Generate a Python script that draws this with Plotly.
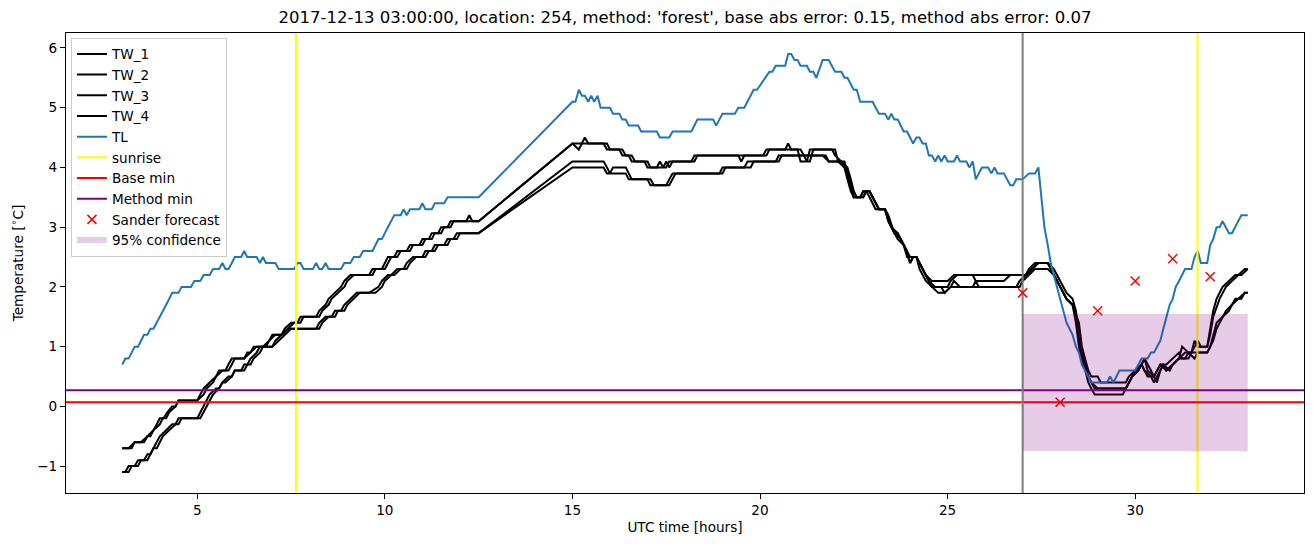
import plotly.graph_objects as go

# ---------------- data ----------------
tl_t = [3.0, 3.08, 3.17, 3.25, 3.33, 3.42, 3.5, 3.58, 3.67, 3.75, 3.83, 3.92, 4.0, 4.08, 4.17, 4.25, 4.33, 4.5, 4.58, 4.83,
        4.92, 5.08, 5.17, 5.33, 5.42, 5.58, 5.67, 5.75, 5.83, 5.92, 6.0, 6.17, 6.25, 6.33, 6.58, 6.67, 6.75, 6.83, 7.08, 7.17,
        7.58, 7.67, 7.75, 7.83, 8.08, 8.17, 8.25, 8.33, 8.42, 8.5, 8.83, 8.92, 9.08, 9.17, 9.33, 9.42, 9.67, 9.83, 9.92, 10.08,
        10.17, 10.25, 10.42, 10.5, 10.58, 10.67, 10.92, 11.0, 11.08, 11.25, 11.33, 11.58, 11.67, 12.5,
        15.0, 15.08, 15.17, 15.25, 15.33, 15.42, 15.5, 15.58, 15.67, 15.75, 16.0, 16.08, 16.25, 16.33, 16.42, 16.5, 16.75, 16.83,
        17.25, 17.33, 17.58, 17.67, 18.17, 18.25, 18.33, 18.75, 18.83, 19.0, 19.33, 19.42, 19.58, 19.83, 19.92, 20.25, 20.33,
        20.42, 20.67, 20.75, 20.83, 20.92, 21.0, 21.08, 21.25, 21.33, 21.42, 21.5, 21.67, 21.83, 22.0, 22.17, 22.25, 22.33,
        22.5, 22.58, 22.67, 23.0, 23.17, 23.33, 23.42, 23.5, 23.58, 23.67, 23.83, 23.92, 24.08, 24.17, 24.25, 24.33, 24.42,
        24.5, 24.58, 24.67, 24.75, 24.83, 24.92, 25.0, 25.17, 25.25, 25.33, 25.5, 25.58, 25.67, 25.75, 25.83, 25.92, 26.08,
        26.17, 26.25, 26.33, 26.5, 26.67, 26.75, 26.83, 27.0, 27.17, 27.33, 27.42, 27.5, 27.58, 27.67, 27.75, 27.83, 27.92,
        28.0, 28.08, 28.17, 28.25, 28.33, 28.42, 28.5, 28.58, 28.67, 28.75, 28.83, 29.25, 29.33, 29.42, 29.5, 29.58, 30.0,
        30.08, 30.17, 30.33, 30.42, 30.5, 30.58, 30.67, 30.75, 30.83, 30.92, 31.0, 31.08, 31.17, 31.25, 31.33, 31.5, 31.58,
        31.67, 31.75, 31.83, 31.92, 32.0, 32.08, 32.17, 32.25, 32.33, 32.42, 32.5, 32.58, 32.67, 32.75, 32.83, 33.0]
tl_v = [0.7, 0.8, 0.8, 0.9, 1.0, 1.0, 1.1, 1.2, 1.2, 1.3, 1.3, 1.4, 1.5, 1.6, 1.7, 1.8, 1.9, 1.9, 2.0, 2.0,
        2.1, 2.1, 2.2, 2.2, 2.3, 2.3, 2.4, 2.3, 2.3, 2.4, 2.5, 2.5, 2.6, 2.5, 2.5, 2.4, 2.5, 2.4, 2.4, 2.3,
        2.3, 2.4, 2.4, 2.3, 2.3, 2.4, 2.3, 2.3, 2.4, 2.3, 2.3, 2.4, 2.4, 2.5, 2.5, 2.6, 2.6, 2.8, 2.8, 3.0,
        3.1, 3.2, 3.2, 3.3, 3.2, 3.3, 3.3, 3.4, 3.3, 3.3, 3.4, 3.4, 3.5, 3.5,
        5.1, 5.1, 5.3, 5.2, 5.2, 5.1, 5.2, 5.1, 5.2, 5.0, 5.0, 4.9, 4.9, 4.8, 4.8, 4.7, 4.7, 4.6,
        4.6, 4.5, 4.5, 4.6, 4.6, 4.7, 4.8, 4.8, 4.7, 4.9, 4.9, 5.0, 5.0, 5.3, 5.3, 5.6, 5.6,
        5.7, 5.7, 5.9, 5.9, 5.8, 5.8, 5.7, 5.7, 5.6, 5.6, 5.5, 5.8, 5.8, 5.6, 5.6, 5.5, 5.5,
        5.3, 5.3, 5.1, 5.1, 4.9, 4.9, 4.8, 4.9, 4.8, 4.8, 4.6, 4.6, 4.4, 4.5, 4.5, 4.4, 4.4,
        4.2, 4.2, 4.1, 4.2, 4.1, 4.2, 4.1, 4.1, 4.2, 4.1, 4.1, 4.0, 4.1, 3.8, 3.9, 4.0, 4.0,
        3.9, 4.0, 3.9, 3.9, 3.7, 3.7, 3.8, 3.8, 3.9, 3.9, 4.0, 3.5, 3.0, 2.7, 2.4, 2.2, 2.0,
        1.8, 1.6, 1.4, 1.3, 1.2, 1.0, 0.9, 0.7, 0.6, 0.5, 0.4, 0.4, 0.5, 0.4, 0.5, 0.6, 0.6,
        0.7, 0.8, 0.8, 0.9, 0.9, 1.0, 1.1, 1.3, 1.5, 1.7, 1.8, 2.0, 2.1, 2.2, 2.3, 2.3, 2.5,
        2.6, 2.4, 2.4, 2.4, 2.7, 2.8, 3.0, 3.0, 3.1, 3.0, 2.9, 2.9, 3.0, 3.1, 3.2, 3.2]

tw1_t = [3.0, 3.17, 3.33, 3.5, 3.67, 3.83, 3.92, 4.0, 4.1, 4.2, 4.33, 4.42, 4.5, 5.0, 5.08, 5.17, 5.33, 5.5, 5.58, 5.75,
         5.83, 5.92, 6.25, 6.33, 6.42, 6.5, 6.83, 6.92, 7.0, 7.25, 7.33, 7.5, 7.75, 7.83, 8.17, 8.25, 8.42, 8.5, 8.67, 8.83,
         8.92, 9.08, 9.58, 9.67, 9.92, 10.0, 10.08, 10.25, 10.33, 10.58, 10.67, 10.92, 11.0, 11.17, 11.25, 11.42, 11.5,
         11.67, 11.75, 12.17, 12.25, 12.33, 12.5,
         15.0, 15.17, 15.25, 15.83, 15.92, 16.25, 16.33, 16.5, 16.58, 16.92, 17.0, 17.25, 17.33, 17.42, 17.5, 17.58, 17.67,
         18.17, 18.25, 19.42, 19.5, 19.58, 20.08, 20.17, 20.67, 20.75, 20.83, 21.08, 21.17, 21.25, 21.33, 21.92, 22.0,
         22.17, 22.33, 22.42, 22.5, 22.58, 22.75, 22.83, 22.92, 23.0, 23.17, 23.33, 23.42, 23.58, 23.67, 23.83, 23.92, 24.0,
         24.17, 24.33, 24.42, 24.58, 25.0, 25.17, 27.08, 27.25, 27.42, 27.67, 27.83, 28.0, 28.17, 28.33, 28.5, 28.58, 28.67,
         28.75, 28.83, 29.0, 29.08, 29.75, 29.83, 30.0, 30.17, 30.25, 30.33, 30.5, 30.67, 30.83, 31.0, 31.17, 31.25, 31.42,
         31.5, 31.58, 31.67, 31.92, 32.0, 32.08, 32.17, 32.33, 32.5, 32.67, 32.83, 33.0]
tw1_v = [-0.7, -0.7, -0.6, -0.6, -0.5, -0.4, -0.3, -0.2, -0.2, -0.1, 0.0, 0.0, 0.1, 0.1, 0.2, 0.3, 0.4, 0.5, 0.6, 0.6,
         0.7, 0.8, 0.8, 0.9, 0.9, 1.0, 1.0, 1.1, 1.2, 1.2, 1.3, 1.4, 1.4, 1.5, 1.5, 1.6, 1.7, 1.8, 1.9, 2.0,
         2.1, 2.2, 2.2, 2.3, 2.3, 2.4, 2.5, 2.5, 2.6, 2.6, 2.7, 2.7, 2.8, 2.8, 2.9, 2.9, 3.0,
         3.0, 3.1, 3.1, 3.2, 3.1, 3.1,
         4.4, 4.3, 4.4, 4.4, 4.3, 4.3, 4.2, 4.2, 4.1, 4.1, 4.0, 4.0, 4.1, 4.0, 4.1, 4.0, 4.1,
         4.1, 4.2, 4.2, 4.1, 4.2, 4.2, 4.3, 4.3, 4.4, 4.3, 4.3, 4.2, 4.1, 4.3, 4.3, 4.2,
         4.1, 4.0, 3.8, 3.6, 3.5, 3.5, 3.6, 3.6, 3.5, 3.3, 3.3, 3.1, 2.9, 2.9, 2.7, 2.6, 2.5,
         2.5, 2.3, 2.2, 2.1, 2.1, 2.2, 2.2, 2.3, 2.4, 2.4, 2.2, 2.0, 1.8, 1.7, 1.4, 1.0, 0.8,
         0.6, 0.5, 0.5, 0.4, 0.4, 0.5, 0.6, 0.7, 0.8, 0.6, 0.5, 0.7, 0.6, 0.7, 0.8, 1.0, 0.9,
         0.9, 1.1, 1.0, 1.0, 1.3, 1.6, 1.8, 2.0, 2.1, 2.2, 2.2, 2.3]

tw2_t = [3.0, 3.25, 3.33, 3.58, 3.67, 3.75, 3.83, 4.0, 4.08, 4.17, 4.25, 4.42, 4.5, 5.0, 5.17, 5.25, 5.42, 5.5, 5.67,
         5.83, 5.92, 6.0, 6.25, 6.42, 6.58, 6.75, 6.92, 7.08, 7.25, 7.42, 7.58, 7.67, 7.75, 8.25, 8.33, 8.5, 8.58, 8.75,
         8.92, 9.0, 9.17, 9.67, 9.75, 10.0, 10.08, 10.17, 10.33, 10.42, 10.67, 10.75, 11.0, 11.08, 11.25, 11.33, 11.5,
         11.58, 11.75, 11.83, 12.5,
         15.0, 15.25, 15.33, 15.42, 15.92, 16.0, 16.33, 16.42, 16.58, 16.67, 17.0, 17.08, 17.5, 17.58, 18.25, 18.33, 20.17,
         20.25, 20.83, 21.0, 21.08, 21.33, 21.42, 22.0, 22.08, 22.25, 22.33, 22.42, 22.5, 22.67, 22.75, 22.92, 23.08, 23.17,
         23.33, 23.5, 23.67, 23.75, 23.92, 24.0, 24.08, 24.17, 24.33, 24.5, 24.67, 25.0, 25.08, 25.25, 25.67, 25.75, 26.5,
         26.67, 27.08, 27.17, 27.33, 27.67, 27.83, 28.0, 28.17, 28.33, 28.42, 28.5, 28.58, 28.67, 28.75, 28.83, 29.0, 29.75,
         29.83, 29.92, 30.08, 30.17, 30.25, 30.42, 30.58, 30.67, 30.75, 30.92, 31.0, 31.17, 31.33, 31.5, 31.58, 31.67,
         31.75, 31.92, 32.0, 32.08, 32.25, 32.33, 32.42, 32.58, 32.75, 32.92, 33.0]
tw2_v = [-0.7, -0.7, -0.6, -0.6, -0.5, -0.5, -0.4, -0.3, -0.2, -0.2, -0.1, 0.0, 0.1, 0.1, 0.2, 0.3, 0.4, 0.5, 0.6,
         0.6, 0.7, 0.8, 0.8, 0.9, 1.0, 1.0, 1.1, 1.2, 1.2, 1.3, 1.4, 1.4, 1.5, 1.5, 1.6, 1.7, 1.8, 1.9,
         2.0, 2.1, 2.2, 2.2, 2.3, 2.3, 2.4, 2.5, 2.5, 2.6, 2.6, 2.7, 2.7, 2.8, 2.8, 2.9, 2.9,
         3.0, 3.0, 3.1, 3.1,
         4.4, 4.4, 4.5, 4.4, 4.4, 4.3, 4.3, 4.2, 4.2, 4.1, 4.1, 4.0, 4.0, 4.1, 4.1, 4.2, 4.2,
         4.3, 4.3, 4.3, 4.1, 4.1, 4.3, 4.3, 4.1, 4.1, 3.9, 3.7, 3.5, 3.5, 3.6, 3.6, 3.4, 3.3,
         3.3, 3.0, 2.9, 2.8, 2.6, 2.4, 2.5, 2.5, 2.3, 2.1, 2.0, 2.0, 2.1, 2.2, 2.2, 2.1, 2.1,
         2.2, 2.2, 2.3, 2.4, 2.4, 2.3, 2.1, 1.9, 1.8, 1.6, 1.2, 0.9, 0.7, 0.5, 0.4, 0.3, 0.3,
         0.4, 0.5, 0.6, 0.7, 0.8, 0.6, 0.4, 0.6, 0.7, 0.6, 0.7, 0.8, 0.9, 0.9, 1.0, 1.1,
         1.0, 1.0, 1.2, 1.5, 1.8, 1.9, 2.0, 2.1, 2.2, 2.3, 2.3]

tw3_t = [3.0, 3.08, 3.17, 3.33, 3.42, 3.58, 3.67, 3.75, 3.83, 3.92, 4.0, 4.17, 4.33, 4.42, 4.5, 5.0, 5.08, 5.17, 5.25,
         5.33, 5.5, 5.58, 5.67, 5.83, 5.92, 6.0, 6.25, 6.33, 6.42, 6.58, 6.67, 7.0, 7.08, 7.25, 7.42, 8.17, 8.25, 8.42,
         8.58, 8.67, 8.83, 8.92, 9.08, 9.25, 9.58, 9.83, 9.92, 10.08, 10.17, 10.33, 10.5, 10.58, 10.75, 11.0, 11.08,
         11.25, 11.33, 11.58, 11.67, 11.83, 11.92, 12.5,
         15.0, 15.83, 15.92, 16.0, 16.08, 16.42, 16.5, 16.58, 17.08, 17.17, 17.58, 17.67, 17.75, 19.0, 19.08, 19.75, 19.83,
         20.5, 20.58, 21.75, 21.83, 22.17, 22.25, 22.33, 22.42, 22.5, 22.67, 22.75, 22.83, 22.92, 23.08, 23.33, 23.42,
         23.5, 23.67, 23.83, 23.92, 24.17, 24.25, 24.42, 24.58, 24.75, 24.92, 25.08, 25.17, 25.33, 25.67, 25.75, 25.83,
         26.92, 27.0, 27.17, 27.33, 27.67, 27.83, 28.0, 28.17, 28.33, 28.42, 28.5, 28.58, 28.67, 28.75, 28.83, 28.92,
         29.67, 29.75, 29.83, 29.92, 30.0, 30.17, 30.33, 30.5, 30.58, 30.67, 30.83, 31.0, 31.17, 31.25, 31.42, 31.5,
         31.92, 32.0, 32.08, 32.17, 32.33, 32.5, 32.58, 32.75, 32.92, 33.0]
tw3_v = [-1.1, -1.1, -1.0, -1.0, -0.9, -0.9, -0.8, -0.8, -0.7, -0.6, -0.5, -0.4, -0.3, -0.3, -0.2, -0.2, -0.1, 0.0, 0.1,
         0.2, 0.3, 0.3, 0.4, 0.5, 0.5, 0.6, 0.6, 0.7, 0.8, 0.9, 1.0, 1.0, 1.1, 1.2, 1.3, 1.3, 1.4, 1.5,
         1.5, 1.6, 1.6, 1.7, 1.8, 1.9, 1.9, 2.0, 2.1, 2.2, 2.2, 2.3, 2.3, 2.4, 2.5, 2.5, 2.6,
         2.6, 2.7, 2.7, 2.8, 2.8, 2.9, 2.9,
         4.1, 4.1, 4.0, 3.9, 4.0, 4.0, 3.9, 3.8, 3.8, 3.7, 3.7, 3.8, 3.9, 3.9, 4.0, 4.0, 4.1,
         4.1, 4.2, 4.2, 4.1, 4.1, 4.0, 3.8, 3.6, 3.5, 3.5, 3.6, 3.6, 3.5, 3.3, 3.3, 3.1,
         3.0, 2.8, 2.7, 2.5, 2.5, 2.3, 2.1, 2.0, 1.9, 1.9, 2.0, 2.1, 2.0, 2.0, 2.1, 2.0,
         2.0, 2.1, 2.2, 2.3, 2.3, 2.2, 2.0, 1.8, 1.7, 1.5, 1.1, 0.8, 0.6, 0.4, 0.3, 0.2,
         0.2, 0.3, 0.4, 0.5, 0.6, 0.7, 0.5, 0.5, 0.6, 0.7, 0.7, 0.8, 0.9, 0.8, 0.8, 0.9,
         0.9, 1.0, 1.2, 1.4, 1.5, 1.6, 1.7, 1.8, 1.9, 1.9]

tw4_t = [3.0, 3.17, 3.25, 3.42, 3.5, 3.67, 3.75, 3.83, 3.92, 4.0, 4.08, 4.25, 4.42, 4.5, 4.58, 5.08, 5.17, 5.25, 5.33,
         5.42, 5.58, 5.67, 5.75, 5.92, 6.0, 6.17, 6.25, 6.42, 6.5, 6.67, 6.75, 7.0, 7.17, 7.33, 7.5, 8.25, 8.33, 8.5,
         8.67, 8.75, 8.92, 9.0, 9.17, 9.33, 9.75, 9.92, 10.0, 10.17, 10.25, 10.42, 10.58, 10.67, 10.83, 11.08, 11.17,
         11.33, 11.42, 11.67, 11.75, 11.92, 12.0, 12.5,
         15.0, 15.83, 15.92, 16.42, 16.5, 17.0, 17.08, 17.5, 17.58, 17.67, 18.92, 19.0, 19.58, 19.67, 20.42, 20.5, 21.67,
         21.83, 22.08, 22.25, 22.33, 22.42, 22.5, 22.75, 22.83, 22.92, 23.0, 23.17, 23.33, 23.42, 23.58, 23.75, 23.83,
         24.0, 24.08, 24.17, 24.33, 24.5, 24.58, 24.83, 24.92, 25.08, 26.83, 26.92, 27.08, 27.25, 27.42, 27.67, 27.83,
         28.0, 28.17, 28.33, 28.42, 28.5, 28.58, 28.67, 28.75, 28.83, 28.92, 29.75, 29.83, 29.92, 30.08, 30.17, 30.25,
         30.42, 30.5, 30.58, 30.75, 30.83, 31.0, 31.17, 31.33, 31.42, 31.58, 31.67, 31.92, 32.08, 32.17, 32.25, 32.42,
         32.58, 32.67, 32.83, 32.92, 33.0]
tw4_v = [-1.1, -1.1, -1.0, -1.0, -0.9, -0.9, -0.8, -0.7, -0.7, -0.6, -0.5, -0.4, -0.3, -0.3, -0.2, -0.2, -0.1, 0.0, 0.1,
         0.2, 0.3, 0.4, 0.4, 0.5, 0.6, 0.6, 0.7, 0.7, 0.8, 0.9, 1.0, 1.0, 1.1, 1.2, 1.3, 1.3, 1.4, 1.5,
         1.5, 1.6, 1.6, 1.7, 1.8, 1.9, 1.9, 2.0, 2.1, 2.2, 2.2, 2.3, 2.3, 2.4, 2.5, 2.5, 2.6,
         2.6, 2.7, 2.7, 2.8, 2.8, 2.9, 2.9,
         4.0, 4.0, 3.9, 3.9, 3.8, 3.8, 3.7, 3.7, 3.8, 3.9, 3.9, 4.0, 4.0, 4.1, 4.1, 4.2, 4.2,
         4.1, 4.1, 4.0, 3.9, 3.7, 3.5, 3.5, 3.6, 3.6, 3.5, 3.3, 3.3, 3.2, 2.9, 2.8, 2.7,
         2.4, 2.5, 2.5, 2.3, 2.1, 2.0, 2.0, 1.9, 2.0, 2.0, 2.1, 2.2, 2.3, 2.4, 2.4, 2.2,
         2.0, 1.8, 1.7, 1.4, 1.0, 0.8, 0.6, 0.5, 0.4, 0.3, 0.3, 0.4, 0.5, 0.6, 0.7, 0.6,
         0.5, 0.4, 0.5, 0.7, 0.6, 0.7, 0.8, 0.8, 0.9, 0.8, 0.9, 0.9, 1.1, 1.3, 1.4, 1.6,
         1.7, 1.8, 1.8, 1.9, 1.9]

sunrise_hours = [7.63, 31.66]
forecast_start = 27.0
base_min = 0.07
method_min = 0.27
sander_t = [27, 28, 29, 30, 31, 32]
sander_v = [1.9, 0.07, 1.6, 2.1, 2.47, 2.17]
conf_t = [27.0, 33.0]
conf_lo = [-0.75, -0.75]
conf_hi = [1.55, 1.55]

title_text = "2017-12-13 03:00:00, location: 254, method: 'forest', base abs error: 0.15, method abs error: 0.07"
x_range = [1.5, 34.5]
y_range = [-1.45, 6.25]

FONT = "DejaVu Sans"
FS = 13.6

# ---------------- figure ----------------
fig = go.Figure()

for name, tt, vv in [("TW_1", tw1_t, tw1_v), ("TW_2", tw2_t, tw2_v), ("TW_3", tw3_t, tw3_v), ("TW_4", tw4_t, tw4_v)]:
    fig.add_trace(go.Scatter(x=tt, y=vv, mode="lines", name=name, legendgroup=name,
                             line=dict(color="black", width=2)))

fig.add_trace(go.Scatter(x=tl_t, y=tl_v, mode="lines", name="TL", legendgroup="TL",
                         line=dict(color="#1f77b4", width=2)))

# sunrise vertical lines (span full axis height)
sx, sy = [], []
for h in sunrise_hours:
    sx += [h, h, None]
    sy += [y_range[0], y_range[1], None]
fig.add_trace(go.Scatter(x=sx, y=sy, mode="lines", name="sunrise", legendgroup="sunrise",
                         line=dict(color="yellow", width=2)))

fig.add_trace(go.Scatter(x=x_range, y=[base_min, base_min], mode="lines", name="Base min", legendgroup="base",
                         line=dict(color="red", width=2)))
fig.add_trace(go.Scatter(x=x_range, y=[method_min, method_min], mode="lines", name="Method min",
                         legendgroup="method", line=dict(color="purple", width=2)))

# forecast-start line (no legend)
fig.add_trace(go.Scatter(x=[forecast_start, forecast_start], y=y_range, mode="lines",
                         showlegend=False, line=dict(color="grey", width=2)))

fig.add_trace(go.Scatter(x=sander_t, y=sander_v, mode="markers", name="Sander forecast", legendgroup="sander",
                         marker=dict(symbol="x-thin", size=9, line=dict(color="red", width=1.5), color="red")))

fig.add_trace(go.Scatter(x=conf_t + conf_t[::-1], y=conf_hi + conf_lo[::-1], mode="none", legendgroup="conf",
                         fill="toself", fillcolor="rgba(128,0,128,0.2)", name="95% confidence"))

axis_common = dict(showline=True, linecolor="black", linewidth=1, mirror=True, showgrid=False,
                   zeroline=False, ticks="outside", ticklen=5, tickcolor="black", tickwidth=1,
                   automargin=False,
                   tickfont=dict(family=FONT, size=FS, color="black"),
                   title_font=dict(family=FONT, size=FS, color="black"))

# The page body has an 8px default margin, so the figure is sized/placed to compensate.
W, H = 1305, 539
fig.update_layout(
    width=W, height=H,
    margin=dict(l=58, r=9, t=25, b=54, autoexpand=False),
    paper_bgcolor="white", plot_bgcolor="white",
    font=dict(family=FONT, color="black"),
    title=dict(text=title_text, x=0.5, xref="paper", xanchor="center",
               y=1 - 9 / H, yref="container", yanchor="middle", automargin=False,
               font=dict(family=FONT, size=16.5, color="black")),
    xaxis=dict(range=x_range, tickvals=[5, 10, 15, 20, 25, 30], title=dict(text="UTC time [hours]", standoff=5),
               **axis_common),
    yaxis=dict(range=y_range, tickvals=[-1, 0, 1, 2, 3, 4, 5, 6],
               title=dict(text="Temperature [<sup>∘</sup>C]", standoff=12), **axis_common),
    legend=dict(x=0.004, y=0.99, xanchor="left", yanchor="top",
                bgcolor="rgba(255,255,255,0.8)", bordercolor="#cccccc", borderwidth=1,
                font=dict(family=FONT, size=FS, color="black"), itemwidth=30,
                tracegroupgap=0),
    showlegend=True,
)

fig.write_html("out.html")
